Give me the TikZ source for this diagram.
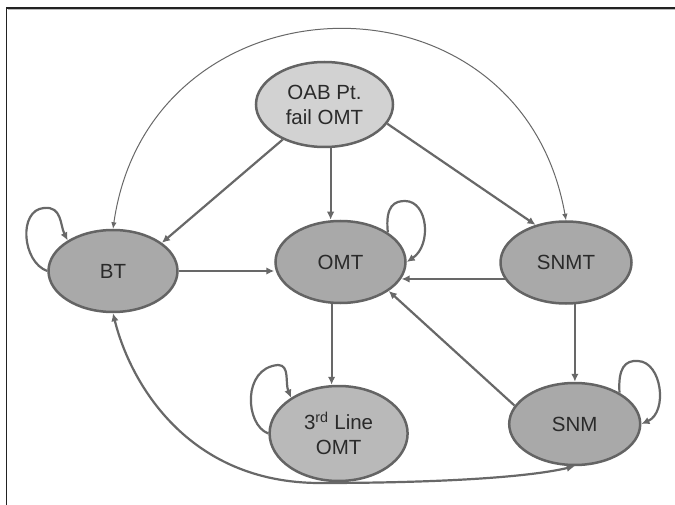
\documentclass[tikz,border=0pt]{standalone}
\usepackage{fontspec}
\setmainfont{Liberation Sans}
\usetikzlibrary{shapes.geometric,arrows.meta}
\definecolor{edgecol}{HTML}{686868}
\definecolor{bordcol}{HTML}{646464}
\definecolor{darkfill}{HTML}{A9A9A9}
\definecolor{lightfill}{HTML}{D2D2D2}
\definecolor{midfill}{HTML}{B9B9B9}
\definecolor{textcol}{HTML}{2A2A2A}
\definecolor{framecol}{HTML}{222222}
\begin{document}
\begin{tikzpicture}[x=1pt,y=-1pt,
  state/.style={ellipse, draw=bordcol, line width=2.5pt, inner sep=0pt, text=textcol,
    font=\fontsize{20.5}{25}\selectfont, align=center},
  conn/.style={draw=edgecol, line width=2.2pt, -{Latex[length=8pt,width=7.5pt]}},
  conntwo/.style={draw=edgecol, line width=2.2pt, {Latex[length=8pt,width=7.5pt]}-{Latex[length=8pt,width=7.5pt]}},
  thinarc/.style={draw=edgecol, line width=1pt, {Latex[length=6.5pt,width=5.5pt]}-{Latex[length=6.5pt,width=5.5pt]}}]
\useasboundingbox (0,0) rectangle (675,505);
\fill[white] (0,0) rectangle (675,505);
% frame
\draw[gray!55, line width=1pt] (7.5,9.8) -- (675,9.8);
\draw[framecol, line width=1.3pt] (6.5,505) -- (6.5,8) -- (675,8);
% nodes
\node[state, fill=lightfill, minimum width=137pt, minimum height=85pt] (OAB) at (324.5,104.5) {OAB Pt.\\fail OMT};
\node[state, fill=darkfill, minimum width=129pt, minimum height=82pt] (BT) at (113,271) {BT};
\node[state, fill=darkfill, minimum width=130pt, minimum height=82pt] (OMT) at (340.5,262) {OMT};
\node[state, fill=darkfill, minimum width=131pt, minimum height=82pt] (SNMT) at (566,262.5) {SNMT};
\node[state, fill=midfill, minimum width=138pt, minimum height=95pt] (third) at (338.6,433.5) {3\textsuperscript{rd} Line\\OMT};
\node[state, fill=darkfill, minimum width=131pt, minimum height=82pt] (SNM) at (574.7,424) {SNM};
% straight connectors
\draw[conn] (OAB.220) -- (BT.30);
\draw[conn] (OAB.278) -- (OAB.278 |- OMT.north);
\draw[conn] (OAB.343) -- (SNMT.129);
\draw[conn] (BT.east) -- (BT.east -| OMT.west);
\draw[conn] (SNMT.195) -- (OMT.345 |- SNMT.195);
\draw[conn] (OMT.258) -- (OMT.258 |- third.north);
\draw[conn] (SNMT.282) -- (SNMT.282 |- SNM.north);
\draw[conn] (SNM.163) -- (OMT.329);
% big arcs
\draw[thinarc] (BT.north) .. controls (150,-30) and (520,-40) .. (SNMT.north);
\draw[conntwo] (BT.south) .. controls (130,382) and (187,483) .. (320,483) .. controls (430,483) and (525,478) .. (SNM.south);
% self loops
\draw[conn] (BT.west) .. controls (22,262) and (18,210) .. (44,208) .. controls (62,206) and (60,225) .. (BT.146);
\draw[conn] (OMT.32) .. controls (385,205) and (395,201) .. (405,201) .. controls (428,201) and (432,245) .. (OMT.east);
\draw[conn] (third.west) .. controls (245,425) and (242,368) .. (278,365) .. controls (290,365) and (285,383) .. (third.143);
\draw[conn] (SNM.35) .. controls (618,368) and (625,360) .. (638,361) .. controls (662,362) and (668,412) .. (SNM.east);
\end{tikzpicture}
\end{document}
